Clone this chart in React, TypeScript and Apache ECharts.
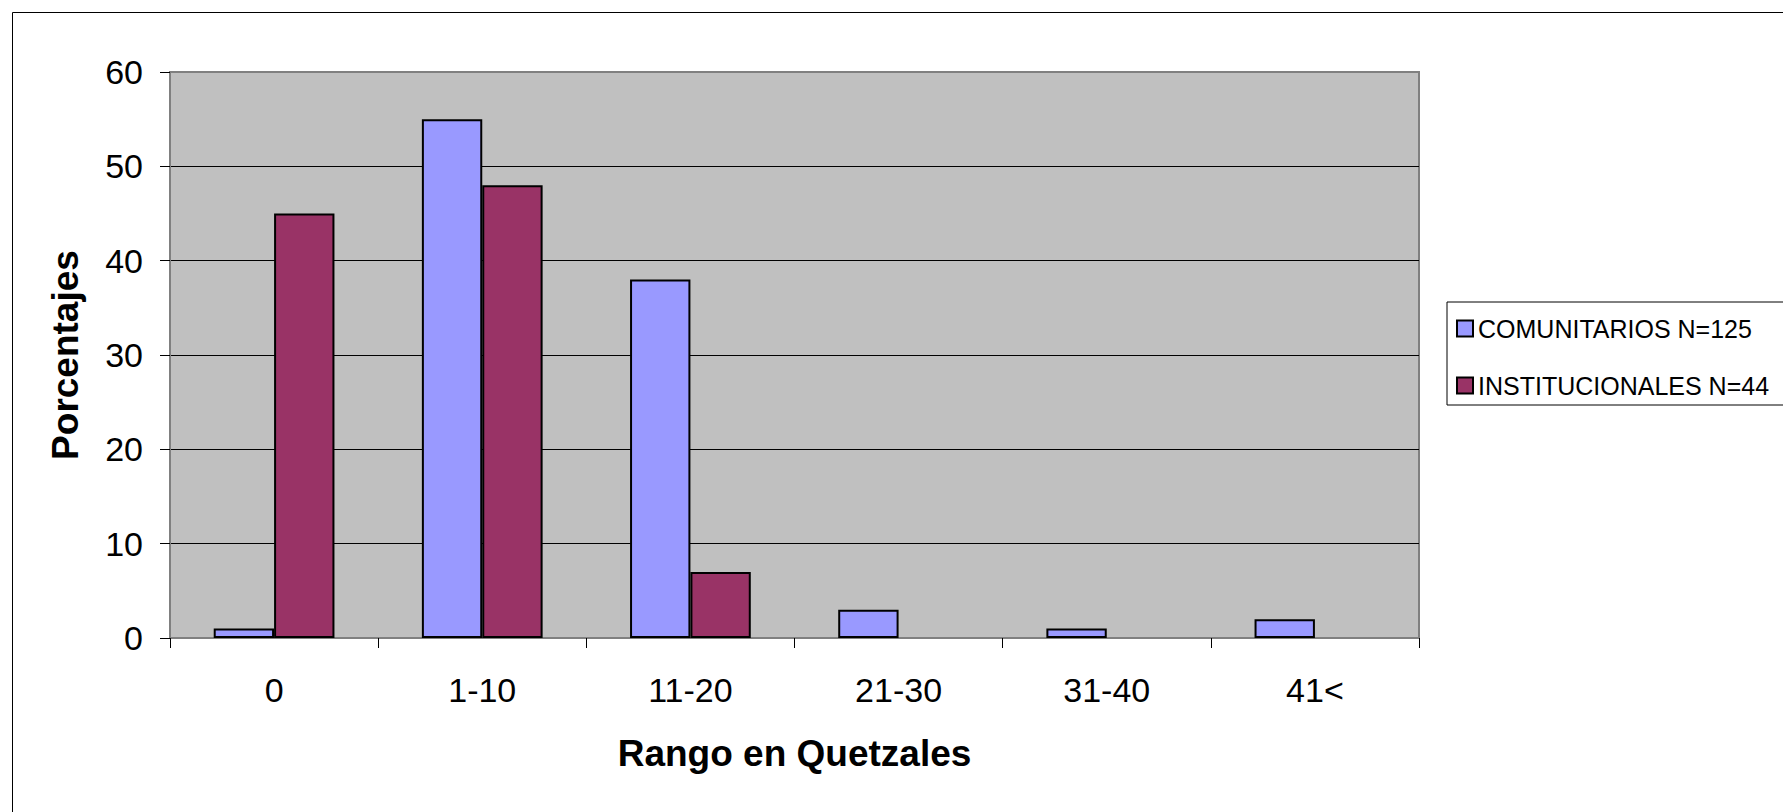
import React, { useEffect, useRef } from "react";
import * as echarts from "echarts";

const categories = ["0", "1-10", "11-20", "21-30", "31-40", "41<"];
const comunitarios = [1, 55, 38, 3, 1, 2];
const institucionales = [45, 48, 7, 0, 0, 0];
const seriesNames = ["COMUNITARIOS N=125", "INSTITUCIONALES N=44"];
const yTicks = { min: 0, max: 60, interval: 10 };

const FONT = "'Liberation Sans', Arial, sans-serif";

// zero-height bars are not drawn in the reference
const noZero = (arr: number[]) => arr.map((v) => (v === 0 ? null : v));

export default function App() {
  const ref = useRef<HTMLDivElement>(null);
  useEffect(() => {
    if (!ref.current) return;
    const chart = echarts.init(ref.current, undefined, { renderer: "svg" });
    chart.setOption({
      animation: false,
      backgroundColor: "#ffffff",
      textStyle: { fontFamily: FONT, color: "#000" },
      grid: {
        left: 170,
        top: 72,
        right: 364,
        bottom: 174,
        show: true,
        backgroundColor: "#C0C0C0",
        borderColor: "#808080",
        borderWidth: 2,
      },
      legend: {
        orient: "vertical",
        left: 1447,
        top: 302,
        data: seriesNames,
        itemWidth: 16,
        itemHeight: 16,
        itemGap: 32,
        padding: [14, 22, 7, 9],
        borderColor: "#000",
        borderWidth: 1,
        icon: "rect",
        textStyle: { fontFamily: FONT, fontSize: 25, color: "#000" },
      },
      xAxis: {
        type: "category",
        data: categories,
        name: "Rango en Quetzales",
        nameLocation: "middle",
        nameGap: 97,
        nameTextStyle: { fontFamily: FONT, fontSize: 37, fontWeight: "bold", color: "#000" },
        axisLine: { show: true, lineStyle: { color: "#808080", width: 2 } },
        axisTick: { show: true, length: 10, lineStyle: { color: "#000", width: 1 } },
        axisLabel: { fontFamily: FONT, fontSize: 34, color: "#000", margin: 35 },
        splitLine: { show: false },
      },
      yAxis: {
        type: "value",
        min: yTicks.min,
        max: yTicks.max,
        interval: yTicks.interval,
        name: "Porcentajes",
        nameLocation: "middle",
        nameGap: 86,
        nameTextStyle: { fontFamily: FONT, fontSize: 37, fontWeight: "bold", color: "#000" },
        axisLine: { show: true, lineStyle: { color: "#808080", width: 2 } },
        axisTick: { show: true, length: 10, lineStyle: { color: "#000", width: 1 } },
        axisLabel: { fontFamily: FONT, fontSize: 34, color: "#000", margin: 27 },
        splitLine: {
          show: true,
          lineStyle: {
            color: ["#000", "#000", "#000", "#000", "#000", "#000", "#808080"],
            width: 1,
          },
        },
      },
      series: [
        {
          name: seriesNames[0],
          type: "bar",
          data: noZero(comunitarios),
          barGap: "0%",
          barCategoryGap: "42%",
          itemStyle: { color: "#9999FF", borderColor: "#000", borderWidth: 2 },
        },
        {
          name: seriesNames[1],
          type: "bar",
          data: noZero(institucionales),
          barGap: "0%",
          barCategoryGap: "42%",
          itemStyle: { color: "#993366", borderColor: "#000", borderWidth: 2 },
        },
      ],
      graphic: [
        { type: "line", shape: { x1: 12.5, y1: 12.5, x2: 1783, y2: 12.5 }, style: { stroke: "#000", lineWidth: 1 } },
        { type: "line", shape: { x1: 12.5, y1: 12.5, x2: 12.5, y2: 812 }, style: { stroke: "#000", lineWidth: 1 } },
      ],
    });
    return () => chart.dispose();
  }, []);
  return (
    <div style={{ position: "absolute", left: 0, top: 0 }}>
      <div ref={ref} style={{ width: 1783, height: 812 }} />
    </div>
  );
}
